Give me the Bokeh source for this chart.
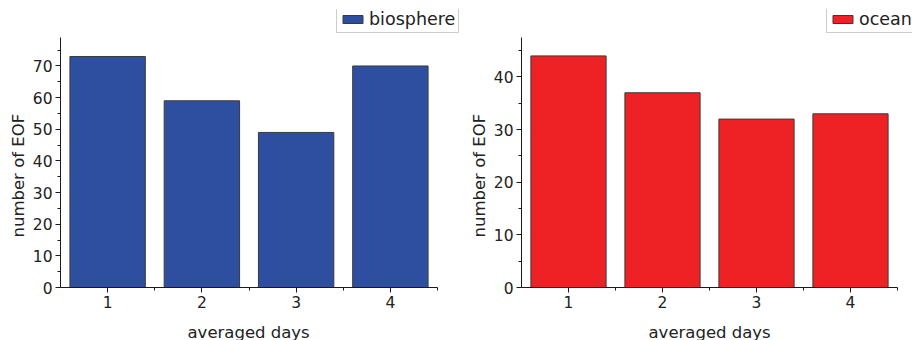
from bokeh.plotting import figure
from bokeh.layouts import row
from bokeh.models import (Range1d, FixedTicker, SingleIntervalTicker, Legend, LegendItem,
                          ColumnDataSource, Title)
from bokeh.embed import file_html
from bokeh.resources import INLINE

days = [1, 2, 3, 4]
day_labels = ["1", "2", "3", "4"]
biosphere = [73, 59, 49, 70]
ocean = [44, 37, 32, 33]
x_label = "averaged days"
y_label = "number of EOF"

FONT = "DejaVu Sans"
TXT = "#222222"


def make_panel(values, name, color, ymax, width, border_left, axis_w, frame_w, legend_x):
    # frame covers plot + legend area; axes limited with bounds
    top_pad = 28            # frame extends above the axis end to hold the legend
    frame_h = 250 + top_pad
    x_end = 0.5 + 4.0 * frame_w / axis_w
    y_end = ymax * frame_h / 250.0
    p = figure(width=width, height=340, frame_width=frame_w, frame_height=frame_h,
               min_border_left=border_left, min_border_right=0,
               min_border_top=9, min_border_bottom=53,
               x_range=Range1d(0.5, x_end), y_range=Range1d(0, y_end),
               output_backend="svg", toolbar_location=None)
    src = ColumnDataSource(dict(x=days, top=values))
    r = p.vbar(x="x", top="top", width=0.8, source=src, fill_color=color,
               line_color="#3a3a3a", line_width=1)
    p.outline_line_color = None
    p.xgrid.grid_line_color = None
    p.ygrid.grid_line_color = None

    xa = p.xaxis[0]
    xa.ticker = FixedTicker(ticks=days, minor_ticks=[1.5, 2.5, 3.5, 4.5])
    xa.major_label_overrides = {d: l for d, l in zip(days, day_labels)}
    xa.bounds = (0.5, 4.5)
    ya = p.yaxis[0]
    ya.ticker = SingleIntervalTicker(interval=10, num_minor_ticks=2)
    ya.bounds = (0, ymax)
    for ax in (xa, ya):
        ax.axis_line_color = "#1a1a1a"
        ax.major_tick_line_color = "#1a1a1a"
        ax.minor_tick_line_color = "#1a1a1a"
        ax.major_tick_out = 5
        ax.major_tick_in = 0
        ax.minor_tick_out = 3
        ax.minor_tick_in = 0
        ax.major_label_text_font = FONT
        ax.major_label_text_font_size = "15.5px"
        ax.major_label_text_color = TXT
    xa.major_label_standoff = 3
    ya.major_label_standoff = 3

    # axis titles placed as Titles so they can be positioned like the reference
    xt = Title(text=x_label, align="left", offset=127, vertical_align="top", standoff=24,
               text_font=FONT, text_font_size="16.5px", text_font_style="normal",
               text_color=TXT)
    p.add_layout(xt, "below")
    yt = Title(text=y_label, align="left", offset=50, vertical_align="bottom", standoff=4,
               text_font=FONT, text_font_size="16.5px", text_font_style="normal",
               text_color=TXT)
    p.add_layout(yt, "left")

    legend = Legend(items=[LegendItem(label=name, renderers=[r])],
                    location=(legend_x, 254), orientation="vertical",
                    glyph_width=25, glyph_height=10, label_standoff=4,
                    label_text_font=FONT, label_text_font_size="17.5px",
                    label_text_color=TXT, label_height=18,
                    padding=3, margin=0, spacing=0,
                    border_line_color="#999999", border_line_width=1,
                    background_fill_color="white", background_fill_alpha=1)
    p.add_layout(legend, "center")
    return p


left = make_panel(biosphere, "biosphere", "#2E4EA0", 79, 465, 60, 377, 405, 276)
right = make_panel(ocean, "ocean", "#EE2224", 47.5, 447, 56, 376, 391, 305)

layout = row(left, right, spacing=0)
open("out.html", "w").write(file_html(layout, INLINE))
